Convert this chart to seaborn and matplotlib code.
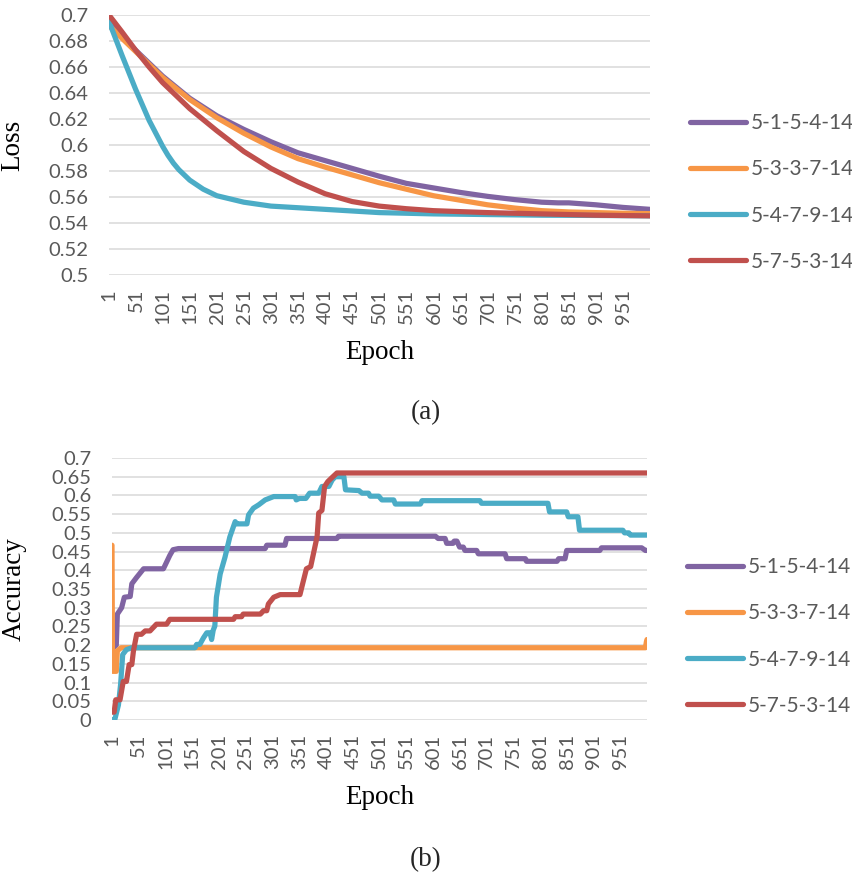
import numpy as np
import pandas as pd
import seaborn as sns
import matplotlib.pyplot as plt
from matplotlib.lines import Line2D
from matplotlib.ticker import FuncFormatter

# ---------- data ----------
models = ['5-1-5-4-14', '5-3-3-7-14', '5-4-7-9-14', '5-7-5-3-14']
colors = ['#8064A2', '#F79646', '#4BACC6', '#C0504D']

# Loss curves (epoch, value)
loss_purple_ep = [1, 25, 50, 75, 100, 150, 200, 250, 300, 350, 400, 450, 500, 550, 600, 650, 700, 750, 800, 830, 850, 900, 950, 1000]
loss_purple = [0.695, 0.684, 0.673, 0.663, 0.653, 0.636, 0.6225, 0.612, 0.6025, 0.594, 0.588, 0.582, 0.576, 0.5705, 0.567,
               0.5635, 0.5605, 0.558, 0.556, 0.5555, 0.5555, 0.554, 0.552, 0.5505]
loss_orange_ep = [1, 25, 50, 75, 100, 150, 200, 250, 300, 350, 400, 450, 500, 550, 600, 650, 700, 750, 800, 850, 900, 950, 1000]
loss_orange = [0.692, 0.682, 0.672, 0.662, 0.652, 0.635, 0.621, 0.609, 0.5985, 0.5895, 0.583, 0.577, 0.571, 0.566, 0.561,
               0.5575, 0.554, 0.5515, 0.5495, 0.5485, 0.548, 0.5475, 0.5472]
loss_blue_ep = [1, 25, 50, 75, 100, 110, 120, 130, 150, 175, 200, 250, 300, 400, 500, 600, 700, 800, 900, 1000]
loss_blue = [0.695, 0.669, 0.643, 0.619, 0.599, 0.592, 0.586, 0.581, 0.573, 0.566, 0.561, 0.556, 0.553, 0.5505, 0.548,
             0.547, 0.5465, 0.546, 0.5458, 0.5455]
loss_red_ep = [1, 25, 50, 75, 100, 150, 200, 250, 300, 350, 400, 450, 500, 550, 600, 700, 800, 900, 1000]
loss_red = [0.700, 0.687, 0.673, 0.660, 0.648, 0.628, 0.611, 0.595, 0.582, 0.5715, 0.5625, 0.5565, 0.553, 0.551, 0.5495,
            0.548, 0.547, 0.546, 0.5455]

# Accuracy curves (epoch, value), step-like
acc_purple_ep = [1, 9, 11, 19, 24, 35, 38, 47, 60, 97, 103, 109, 115, 125, 287, 290, 324, 327, 421, 424, 605, 610, 623,
                 626, 638, 640, 645, 650, 657, 660, 682, 685, 735, 738, 773, 775, 832, 835, 847, 850, 912, 915, 990, 997, 1000]
acc_purple = [0.19, 0.2, 0.283, 0.30, 0.328, 0.33, 0.364, 0.381, 0.404, 0.404, 0.422, 0.44, 0.455, 0.458, 0.458, 0.467,
              0.467, 0.485, 0.485, 0.491, 0.491, 0.485, 0.485, 0.472, 0.472, 0.478, 0.478, 0.462, 0.462, 0.453, 0.453,
              0.444, 0.444, 0.431, 0.431, 0.424, 0.424, 0.431, 0.431, 0.453, 0.453, 0.46, 0.46, 0.453, 0.453]
acc_orange_ep = [1, 2, 9, 11, 18, 997, 999, 1000]
acc_orange = [0.467, 0.13, 0.13, 0.185, 0.193, 0.193, 0.21, 0.215]
acc_blue_ep = [1, 6, 13, 17, 21, 28, 38, 156, 159, 165, 172, 178, 184, 187, 190, 193, 196, 203, 212, 221, 231, 234, 253,
               256, 265, 275, 287, 303, 343, 345, 351, 363, 370, 387, 393, 406, 412, 418, 434, 437, 462, 468, 480, 483,
               499, 505, 527, 530, 577, 580, 688, 691, 815, 818, 850, 853, 871, 874, 955, 958, 966, 969, 1000]
acc_blue = [0.0, 0.0, 0.04, 0.094, 0.175, 0.188, 0.193, 0.193, 0.202, 0.202, 0.22, 0.233, 0.233, 0.215, 0.24, 0.251,
            0.328, 0.39, 0.435, 0.489, 0.53, 0.524, 0.524, 0.548, 0.566, 0.575, 0.588, 0.597, 0.597, 0.588, 0.592,
            0.592, 0.606, 0.606, 0.624, 0.624, 0.641, 0.65, 0.65, 0.615, 0.613, 0.606, 0.606, 0.598, 0.598, 0.588,
            0.588, 0.577, 0.577, 0.586, 0.586, 0.579, 0.579, 0.556, 0.556, 0.543, 0.543, 0.507, 0.507, 0.5, 0.5,
            0.494, 0.494]
acc_red_ep = [1, 5, 8, 16, 22, 28, 33, 38, 41, 47, 56, 63, 72, 78, 84, 103, 109, 228, 231, 243, 246, 278, 284, 290,
              293, 303, 315, 352, 357, 364, 372, 378, 384, 387, 393, 398, 404, 412, 421, 1000]
acc_red = [0.021, 0.021, 0.054, 0.054, 0.103, 0.103, 0.148, 0.148, 0.184, 0.229, 0.229, 0.238, 0.238, 0.247, 0.256,
           0.256, 0.269, 0.269, 0.276, 0.276, 0.283, 0.283, 0.292, 0.292, 0.31, 0.328, 0.335, 0.335, 0.364, 0.404,
           0.41, 0.45, 0.49, 0.553, 0.56, 0.624, 0.637, 0.648, 0.66, 0.66]

tick_epochs = list(range(1, 1000, 50))


def long_frame(pairs):
    parts = []
    for name, (ep, val) in zip(models, pairs):
        parts.append(pd.DataFrame({'epoch': ep, 'value': val, 'model': name}))
    return pd.concat(parts, ignore_index=True)


loss_df = long_frame([(loss_purple_ep, loss_purple), (loss_orange_ep, loss_orange),
                      (loss_blue_ep, loss_blue), (loss_red_ep, loss_red)])
acc_df = long_frame([(acc_purple_ep, acc_purple), (acc_orange_ep, acc_orange),
                     (acc_blue_ep, acc_blue), (acc_red_ep, acc_red)])

# ---------- style ----------
sns.set_theme(style='white')
plt.rcParams['font.family'] = ['Lato', 'DejaVu Sans']
tick_color = '#595959'
grid_color = '#D9D9D9'
lw = 3.75

fig = plt.figure(figsize=(8.52, 8.76), dpi=100)
W, H = 852, 876
ax1 = fig.add_axes([109 / W, 1 - 275 / H, 541 / W, 260 / H])
ax2 = fig.add_axes([112 / W, 1 - 720 / H, 535 / W, 262 / H])


def style_axis(ax, df, ylim, ystep, ylabel, ylab_x):
    sns.lineplot(data=df, x='epoch', y='value', hue='model', palette=colors, estimator=None,
                 sort=False, lw=lw, legend=False, ax=ax, solid_capstyle='round', solid_joinstyle='round')
    ax.set_xlim(1, 1000)
    ax.set_ylim(*ylim)
    ax.set_yticks(np.arange(ylim[0], ylim[1] + 1e-9, ystep))
    ax.yaxis.set_major_formatter(FuncFormatter(lambda v, _: f'{round(v, 2):g}'))
    ax.set_xticks(tick_epochs)
    ax.set_xticklabels([str(t) for t in tick_epochs], rotation=90)
    ax.grid(axis='y', color=grid_color, lw=1.1)
    ax.grid(axis='x', visible=False)
    ax.set_axisbelow(True)
    for s in ax.spines.values():
        s.set_visible(False)
    ax.tick_params(axis='y', length=0, pad=15, labelsize=14.5, labelcolor=tick_color)
    ax.tick_params(axis='x', length=0, pad=10, labelsize=14.5, labelcolor=tick_color)
    ax.set_xlabel('Epoch', family='Liberation Serif', fontsize=19.5, color='black')
    ax.set_ylabel(ylabel, family='Liberation Serif', fontsize=19.5, color='black')
    ax.yaxis.set_label_coords(ylab_x, 0.5)


style_axis(ax1, loss_df, (0.5, 0.7), 0.02, 'Loss', -0.155)
style_axis(ax2, acc_df, (0.0, 0.7), 0.05, 'Accuracy', -0.16)
ax1.xaxis.set_label_coords(0.5, -0.25)
ax2.xaxis.set_label_coords(0.5, -0.25)

handles = [Line2D([0], [0], color=c, lw=lw, solid_capstyle='round') for c in colors]
for yc, xc in [(192.5, 690), (636.5, 687)]:
    fig.legend(handles, models, loc='center left', bbox_to_anchor=(xc / W, 1 - yc / H),
               frameon=False, fontsize=15, labelcolor=tick_color, handlelength=2.7,
               handletextpad=0.2, labelspacing=1.25, borderpad=0, borderaxespad=0)

fig.text(426 / W, 1 - 413 / H, '(a)', family='Liberation Serif', fontsize=19.5, ha='center', va='center')
fig.text(426 / W, 1 - 860 / H, '(b)', family='Liberation Serif', fontsize=19.5, ha='center', va='center')

fig.savefig('out.png', dpi=100)
